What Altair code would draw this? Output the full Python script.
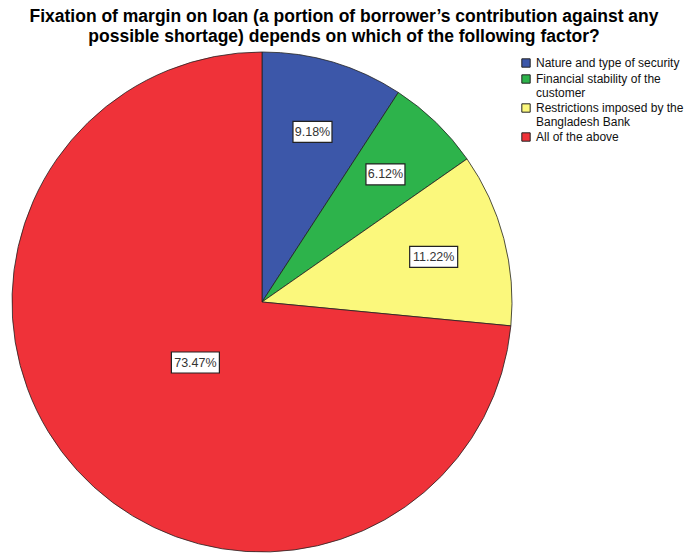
import altair as alt
import pandas as pd

categories = [
    "Nature and type of security",
    "Financial stability of the customer",
    "Restrictions imposed by the Bangladesh Bank",
    "All of the above",
]
legend_labels = [
    "Nature and type of security",
    "Financial stability of the|customer",
    "Restrictions imposed by the|Bangladesh Bank",
    "All of the above",
]
percent_values = [9.18, 6.12, 11.22, 73.47]
slice_order = [1, 2, 3, 4]
colors = ["#3C57A9", "#2DB34B", "#FBF87C", "#EF3239"]

df = pd.DataFrame({
    "category": legend_labels,
    "value": percent_values,
    "order": slice_order,
})

title_lines = [
    "Fixation of margin on loan (a portion of borrower\u2019s contribution against any",
    "possible shortage) depends on which of the following factor?",
]

FONT = "Liberation Sans"

color_enc = alt.Color(
    "category:N",
    scale=alt.Scale(domain=legend_labels, range=colors),
    sort=legend_labels,
    legend=alt.Legend(
        title=None,
        orient="none",
        legendX=508,
        legendY=5,
        symbolType="square",
        symbolSize=70,
        symbolStrokeColor="#222",
        symbolStrokeWidth=1,
        symbolOpacity=1,
        labelFont=FONT,
        labelFontSize=12,
        labelColor="#111",
        labelExpr="split(datum.label, '|')",
        labelLimit=200,
        rowPadding=2,
    ),
)

base = alt.Chart(df)

pie = base.mark_arc(radius=250, stroke="#222", strokeWidth=0.8).encode(
    theta=alt.Theta("value:Q", stack=True),
    color=color_enc,
    order=alt.Order("order:Q"),
)

xs = alt.Scale(domain=[-1, 1], nice=False, zero=False)
ys = alt.Scale(domain=[-1, 1], nice=False, zero=False)

positioned = base.transform_joinaggregate(
    total="sum(value)"
).transform_window(
    cum="sum(value)", sort=[alt.SortField("order")], frame=[None, 0]
).transform_calculate(
    mid="(datum.cum - datum.value / 2) / datum.total * 2 * PI",
    share="datum.value / datum.total",
    label="format(datum.value, '.2f') + '%'",
).transform_calculate(
    r="datum.share > 0.5 ? 0.36 : 0.71",
).transform_calculate(
    lx="datum.r * sin(datum.mid)",
    ly="datum.r * cos(datum.mid)",
    hw="(length(datum.label) * 9 - 6) / 500",
    hh="0.042",
).transform_calculate(
    x1="datum.lx - datum.hw",
    x2="datum.lx + datum.hw",
    y1="datum.ly - datum.hh",
    y2="datum.ly + datum.hh",
)

boxes = positioned.mark_rect(fill="white", stroke="#222", strokeWidth=1.2).encode(
    x=alt.X("x1:Q", scale=xs, axis=None),
    x2="x2:Q",
    y=alt.Y("y1:Q", scale=ys, axis=None),
    y2="y2:Q",
)

labels = positioned.mark_text(font=FONT, fontSize=12.5, color="#333").encode(
    x=alt.X("lx:Q", scale=xs, axis=None),
    y=alt.Y("ly:Q", scale=ys, axis=None),
    text="label:N",
)

chart = alt.layer(pie, boxes, labels).properties(
    width=500,
    height=500,
    autosize=alt.AutoSizeParams(type="none"),
    padding={"left": 12, "top": 52, "right": 176, "bottom": 2},
    title=alt.TitleParams(
        text=title_lines,
        font=FONT,
        fontSize=17.5,
        fontWeight="bold",
        color="black",
        anchor="middle",
        dx=82,
        offset=5,
        lineHeight=19.5,
    ),
).configure_view(stroke=None)

chart.save("out.html", embed_options={"renderer": "svg", "actions": False})
